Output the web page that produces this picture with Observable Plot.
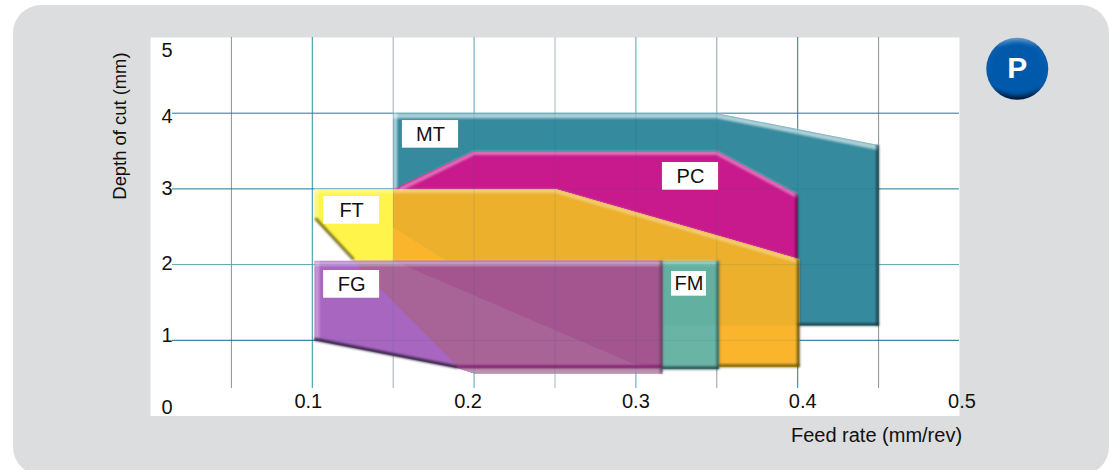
<!DOCTYPE html>
<html>
<head>
<meta charset="utf-8">
<script src="https://cdn.jsdelivr.net/npm/d3@7"></script>
<script src="https://cdn.jsdelivr.net/npm/@observablehq/plot@0.6"></script>
<style>
html,body{margin:0;padding:0;background:#fff;}
#wrap{position:relative;width:1112px;height:470px;overflow:hidden;}
#panel{position:absolute;left:13px;top:5px;width:1096px;height:470px;background:#dcddde;border-radius:28px;}
#chart{position:absolute;left:0;top:0;}
.soft{filter:blur(1.2px);}
.soft2{filter:blur(2px);}
</style>
</head>
<body>
<div id="wrap"><div id="panel"></div><div id="chart"></div></div>
<script>
// Grid
const gridX = [0.05,0.1,0.15,0.2,0.25,0.3,0.35,0.4,0.45];
const gridXColors = ["#9c9c9c","#3f9bae","#bdbdbd","#6fb6c4","#c6c6c6","#6fb6c4","#adadad","#2a8a9e","#9a9a9a"];
const gridY = [1,2,3,4];
const gridYColors = ["#1f6f8a","#6aaebd","#2a8a9e","#2a8a9e"];
const gridYBottom = 0.363, gridXLeft = 0.0136;

// Ticks
const xTicks = [0.1,0.2,0.3,0.4,0.5];
const xTickLabels = ["0.1","0.2","0.3","0.4","0.5"];
const xTickShift = [-4,-6,0,5,2.5];
const yTicks = [0,1,2,3,4,5];
const yTickShift = [-8.5,-5,-1,0,3,13];

// Regions (feed rate, depth of cut)
const mtX = [0.15,0.35,0.45,0.45,0.247,0.15];
const mtY = [4,4,3.58,1.195,1.195,2.49];
const pcX = [0.15,0.2,0.35,0.4,0.4,0.25];
const pcY = [3,3.5,3.5,2.93,2.05,3];
const ftX = [0.1013,0.25,0.401,0.401,0.19,0.1013];
const ftY = [3,3,2.07,0.65,0.65,2.6];
const ftRightX = [0.15,0.25,0.401,0.401,0.19,0.15];
const ftRightY = [3,3,2.07,0.65,0.65,1.506];
const ftMtX = [0.15,0.25,0.401,0.401,0.247,0.15];
const ftMtY = [3,3,2.07,1.195,1.195,2.49];
const fmX = [0.2,0.351,0.351,0.2];
const fmY = [2.05,2.05,0.62,0.62];
const fmLowX = [0.316,0.351,0.351,0.316];
const fmLowY = [1.195,1.195,0.62,0.62];
const fgX = [0.1013,0.3163,0.3163,0.2,0.19,0.1013];
const fgY = [2.05,2.05,0.56,0.56,0.63,1];
const fgFtX = [0.125,0.3163,0.3163,0.19];
const fgFtY = [2.05,2.05,0.65,0.65];
const fgMtX = [0.15,0.3163,0.3163,0.2985];
const fgMtY = [2.05,2.05,0.65,0.69];
const fgBandX = [0.19,0.3163,0.3163,0.2];
const fgBandY = [0.63,0.63,0.56,0.56];

// Labels
const regionNames = ["MT","PC","FT","FG","FM"];
const boxX1 = [0.1557,0.3164,0.1070,0.1070,0.3220];
const boxX2 = [0.1904,0.3511,0.1416,0.1416,0.3436];
const boxY1 = [3.538,2.983,2.534,1.556,1.583];
const boxY2 = [3.903,3.349,2.900,1.922,1.909];

const WHITE="#ffffff";
const edges = [
  // MT
  {x:[0.15,0.35,0.45],y:[4,4,3.58],c:WHITE,o:.6,w:5,dy:2.5},
  {x:[0.15,0.15],y:[4,3],c:WHITE,o:.6,w:4,dx:2},
  {x:[0.45,0.45],y:[3.58,1.195],c:"#16262b",o:.65,w:3,dx:-1},
  {x:[0.4,0.45],y:[1.195,1.195],c:"#16262b",o:.65,w:3,dy:-1},
  // PC
  {x:[0.154,0.2,0.35,0.4],y:[3.02,3.5,3.5,2.93],c:WHITE,o:.38,w:4,dy:2},
  {x:[0.4,0.4],y:[2.93,2.07],c:"#35092b",o:.6,w:3,dx:-1},
  // FT
  {x:[0.1013,0.25,0.401],y:[3,3,2.07],c:WHITE,o:.35,w:4,dy:2},
  {x:[0.1013,0.1013],y:[3,2.6],c:WHITE,o:.35,w:4,dx:2},
  {x:[0.1013,0.125],y:[2.6,2.05],c:"#5f5a18",o:.8,w:3,dx:1,dy:-1},
  {x:[0.401,0.401],y:[2.07,0.65],c:"#4f4410",o:.75,w:3,dx:-1},
  {x:[0.351,0.401],y:[0.65,0.65],c:"#4f4410",o:.75,w:3,dy:-1},
  // FM
  {x:[0.316,0.351],y:[2.05,2.05],c:WHITE,o:.35,w:4,dy:2},
  {x:[0.351,0.351],y:[2.05,0.62],c:"#24403c",o:.6,w:3,dx:-0.5},
  {x:[0.316,0.351],y:[0.62,0.62],c:"#10303c",o:.75,w:3,dy:-1},
  // FG
  {x:[0.1013,0.3163],y:[2.05,2.05],c:WHITE,o:.4,w:5,dy:2.5},
  {x:[0.1013,0.1013],y:[2.05,1],c:WHITE,o:.3,w:5,dx:2.5},
  {x:[0.1013,0.19],y:[1,0.63],c:"#241a30",o:.85,w:3,dy:-1},
  {x:[0.19,0.3163],y:[0.65,0.65],c:"#80155f",o:.85,w:3,dy:0},
  {x:[0.3163,0.3163],y:[2.05,0.56],c:"#3d3343",o:.55,w:3,dx:-1}
];

const poly = (xs, ys, fill) =>
  Plot.line(xs.map((x,i)=>({x,y:ys[i]})),{x:"x",y:"y",fill,stroke:"none"});
const edge = e =>
  Plot.line(e.x.map((x,i)=>({x,y:e.y[i]})),{x:"x",y:"y",stroke:e.c,strokeOpacity:e.o,strokeWidth:e.w,
    dx:e.dx||0,dy:e.dy||0,className:"soft",strokeLinecap:"butt",strokeLinejoin:"miter"});
const gridRulesX = (colors, opacity) => Plot.ruleX(gridX,{x:d=>d,y1:gridYBottom,y2:5,
    stroke:(d,i)=>colors?colors[i]:"#0a6478",strokeOpacity:opacity,strokeWidth:1});
const gridRulesY = (colors, opacity) => Plot.ruleY(gridY,{y:d=>d,x1:gridXLeft,x2:0.5,
    stroke:(d,i)=>colors?colors[i]:"#0a6478",strokeOpacity:opacity,strokeWidth:1});

const FONT = "'Liberation Sans', Arial, sans-serif";
const FS = 20;

const defs = () => {
  const ns = "http://www.w3.org/2000/svg";
  const d = document.createElementNS(ns,"defs");
  const g = document.createElementNS(ns,"linearGradient");
  g.setAttribute("id","badgeRim");
  g.setAttribute("x1","0");g.setAttribute("y1","0");g.setAttribute("x2","0");g.setAttribute("y2","1");
  [["0%","#6a9ccb"],["16%","#0b5fae"],["78%","#0059ab"],["100%","#00142c"]].forEach(([o,c])=>{
    const s=document.createElementNS(ns,"stop");s.setAttribute("offset",o);s.setAttribute("stop-color",c);g.appendChild(s);
  });
  d.appendChild(g);
  return d;
};

const marks = [
  defs,
  Plot.frame({fill:"#ffffff",stroke:"none"}),
  gridRulesX(gridXColors,1),
  gridRulesY(gridYColors,1),
  poly(mtX,mtY,"#358a9d"),
  poly(pcX,pcY,"#c91a8d"),
  poly(ftX,ftY,"#fef44a"),
  poly(ftRightX,ftRightY,"#fbb52d"),
  poly(ftMtX,ftMtY,"#ecb02c"),
  poly(fmX,fmY,"#62b1a0"),
  poly(fmLowX,fmLowY,"#6ab4a6"),
  poly(fgX,fgY,"#a866c0"),
  poly(fgFtX,fgFtY,"#a86397"),
  poly(fgMtX,fgMtY,"#a4558f"),
  poly(fgBandX,fgBandY,"#b993ac"),
  ...edges.map(edge),
  gridRulesX(null,0.13),
  gridRulesY(null,0.13),
  Plot.rect(regionNames,{x1:(d,i)=>boxX1[i],x2:(d,i)=>boxX2[i],y1:(d,i)=>boxY1[i],y2:(d,i)=>boxY2[i],fill:"#ffffff",inset:0}),
  Plot.text(regionNames,{x:(d,i)=>(boxX1[i]+boxX2[i])/2,y:(d,i)=>(boxY1[i]+boxY2[i])/2,text:d=>d,fill:"#111",fontSize:FS,fontFamily:FONT}),
  ...xTicks.map((t,i)=>Plot.axisX([t],{anchor:"bottom",tickSize:0,tickPadding:0,label:null,
      tickFormat:()=>xTickLabels[i],fontSize:FS,fontFamily:FONT,fill:"#111",dx:xTickShift[i],dy:-22})),
  ...yTicks.map((t,i)=>Plot.axisY([t],{anchor:"left",tickSize:0,tickPadding:0,label:null,
      tickFormat:d=>String(d),fontSize:FS,fontFamily:FONT,fill:"#111",dx:22,dy:yTickShift[i]})),
  Plot.text(["Feed rate (mm/rev)"],{x:0.4487,y:-0.258,text:d=>d,fontSize:FS,fontFamily:FONT,fill:"#111",clip:false}),
  Plot.text(["Depth of cut (mm)"],{x:-0.0185,y:3.83,text:d=>d,rotate:-90,fontSize:18.4,fontFamily:FONT,fill:"#111",clip:false}),
  Plot.dot(["P"],{x:0.5357,y:4.587,r:31,fill:"url(#badgeRim)",stroke:"none"}),
  Plot.dot(["P"],{x:0.5357,y:4.587,r:26.5,fill:"#0059ab",stroke:"none",className:"soft2"}),
  Plot.text(["P"],{x:0.5357,y:4.587,text:d=>d,fontSize:30,fontWeight:"bold",fontFamily:FONT,fill:"#ffffff"})
];

const chart = Plot.plot({
  width:1112,height:470,
  marginLeft:150,marginRight:153,marginTop:37,marginBottom:54.5,
  style:{background:"transparent",overflow:"visible"},
  x:{domain:[0,0.5]},
  y:{domain:[0,5]},
  marks
});
document.getElementById("chart").appendChild(chart);
</script>
</body>
</html>
